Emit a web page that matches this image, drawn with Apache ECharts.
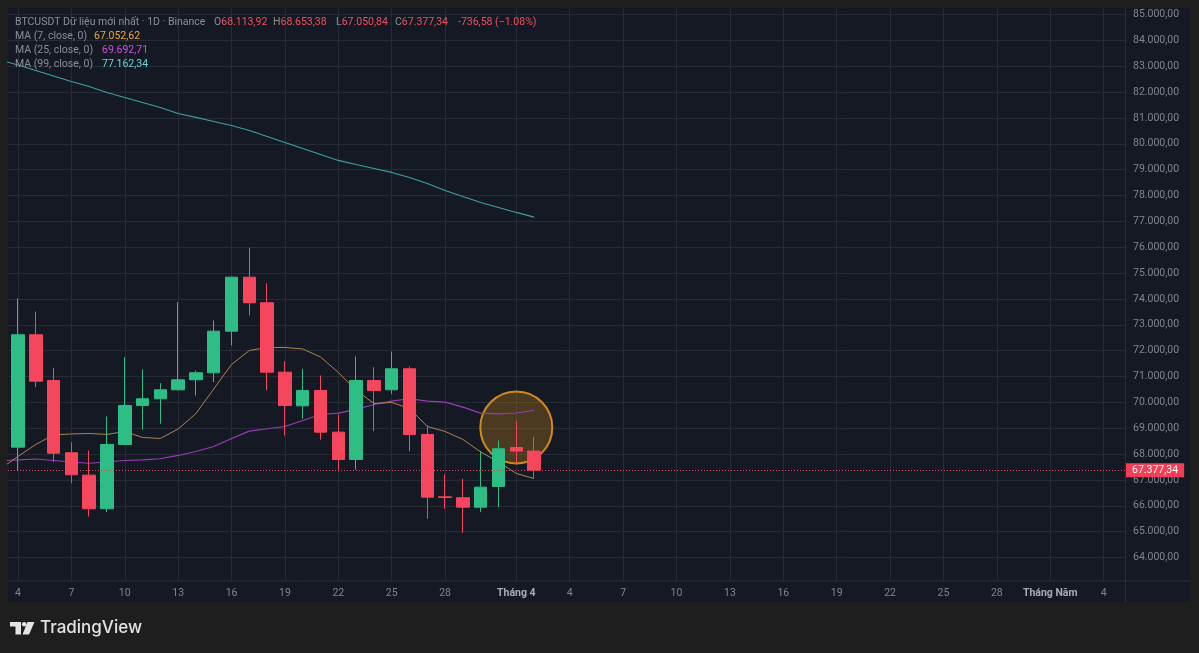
<!DOCTYPE html>
<html><head><meta charset="utf-8">
<script src="https://cdn.jsdelivr.net/npm/echarts@6/dist/echarts.min.js"></script>
<style>html,body{margin:0;padding:0;background:#1e1e1e;}#c{width:1199px;height:653px;}</style>
</head><body><div id="c"></div>
<script>
// ---------- data ----------
const dates = ['2024-03-03','2024-03-04','2024-03-05','2024-03-06','2024-03-07','2024-03-08','2024-03-09','2024-03-10',
  '2024-03-11','2024-03-12','2024-03-13','2024-03-14','2024-03-15','2024-03-16','2024-03-17','2024-03-18','2024-03-19',
  '2024-03-20','2024-03-21','2024-03-22','2024-03-23','2024-03-24','2024-03-25','2024-03-26','2024-03-27','2024-03-28',
  '2024-03-29','2024-03-30','2024-03-31','2024-04-01','2024-04-02'];
const open  = [null,68266,72613,70845,68049,67183,65883,68370,69879,70138,70486,70872,71143,72752,74840,73850,71166,69866,70459,68846,67790,70845,70486,71298,68757,66345,66309,65945,66746,68250,68113.92];
const high  = [null,74017,73514,71336,68459,68138,69453,71746,71271,70741,73874,71232,73166,74860,75977,74608,71592,71298,71039,69530,71773,71360,71967,71387,69105,67210,67043,68111,68525,69271,68653.38];
const low   = [null,67365,70586,67686,66873,65586,65752,68350,68939,69171,70459,70265,70780,72199,73359,70459,68718,69364,68552,67326,67392,68885,70331,68111,65497,65883,64955,65752,65945,67624,67050.84];
const close = [null,72613,70818,68034,67198,65883,68370,69879,70138,70486,70872,71143,72752,74840,73850,71166,69879,70459,68846,67790,70845,70459,71298,68757,66332,66320,65945,66719,68204,68113.92,67377.34];
const ma7   = [67422,67906,68370,68738,68776,68796,68757,68873,68641,68602,68970,69569,70517,71464,72006,72122,72122,72064,71754,71155,70459,69956,69994,69762,69066,68873,68564,68080,67693,67249,67052.62];
const ma25  = [67736,67771,67809,67751,67693,67643,67693,67751,67778,67817,67945,68099,68293,68602,68885,68977,69066,69298,69530,69581,69724,69917,70045,70138,70045,70006,69813,69581,69557,69588,69692.71];
const ma99  = [83233,83047,82834,82622,82409,82215,81983,81790,81597,81403,81171,81017,80862,80707,80514,80282,80050,79818,79586,79354,79199,79044,78890,78696,78464,78193,77961,77729,77536,77343,77162.34];
const tickDates  = ['2024-03-04','2024-03-07','2024-03-10','2024-03-13','2024-03-16','2024-03-19','2024-03-22','2024-03-25','2024-03-28',
  '2024-04-01','2024-04-04','2024-04-07','2024-04-10','2024-04-13','2024-04-16','2024-04-19','2024-04-22','2024-04-25','2024-04-28',
  '2024-05-01','2024-05-04'];
const tickLabels = ['4','7','10','13','16','19','22','25','28','Tháng 4','4','7','10','13','16','19','22','25','28','Tháng Năm','4'];
const yTicks = [64000,65000,66000,67000,68000,69000,70000,71000,72000,73000,74000,75000,76000,77000,78000,79000,80000,81000,82000,83000,84000,85000];
const highlightDate = '2024-04-01';
const highlightPrice = 69030;
const symbolName = 'BTCUSDT Dữ liệu mới nhất · 1D · Binance';

// ---------- helpers ----------
const UP = '#2ebd85', DOWN = '#f6465d';
const base = Date.UTC(2024, 2, 4);
const dayOff = d => (Date.parse(d + 'T00:00:00Z') - base) / 86400000;
function fmtVN(v) {
  const s = Math.abs(v).toFixed(2);
  let [i, d] = s.split('.');
  i = i.replace(/\B(?=(\d{3})+(?!\d))/g, '.');
  return (v < 0 ? '-' : '') + i + ',' + d;
}
const candleData = [];
dates.forEach((d, i) => { if (open[i] != null) candleData.push([dayOff(d), open[i], close[i], low[i], high[i]]); });
const maData = arr => dates.map((d, i) => [dayOff(d), arr[i]]);
const tickOffsets = tickDates.map(dayOff);
const n = close.length - 1;
const lastO = open[n], lastH = high[n], lastL = low[n], lastC = close[n];
const chg = lastC - close[n - 1];
const pct = chg / close[n - 1] * 100;

const GRAY = '#8b8e97';
const FONT = 'Roboto, "Noto Sans", sans-serif';
const FS = 10.5;
const RICH = {
  g: { fill: GRAY, fontSize: FS, fontFamily: FONT },
  r: { fill: '#f0505f', fontSize: FS, fontFamily: FONT },
  o: { fill: '#eba83a', fontSize: FS, fontFamily: FONT },
  m: { fill: '#d04fe0', fontSize: FS, fontFamily: FONT },
  c: { fill: '#6fd3da', fontSize: FS, fontFamily: FONT }
};
function txt(x, y, rich) {
  return { type: 'text', x, y, z: 20, silent: true, style: { text: rich, rich: RICH, fontFamily: FONT, fontSize: FS, fill: GRAY, verticalAlign: 'middle' } };
}

const chart = echarts.init(document.getElementById('c'));
chart.setOption({
  animation: false,
  backgroundColor: '#1e1e1e',
  grid: { left: 8, right: 74, top: 8, bottom: 72 },
  xAxis: {
    type: 'value', min: -0.56, max: 62.2,
    axisLine: { show: false },
    axisTick: { show: false, customValues: tickOffsets },
    splitLine: { show: true, lineStyle: { color: '#272b36', width: 1 } },
    axisLabel: {
      customValues: tickOffsets, margin: 7, fontSize: FS, fontFamily: FONT, color: '#82858e',
      formatter: v => {
        const k = tickOffsets.indexOf(v);
        const s = k >= 0 ? tickLabels[k] : '';
        return /^\d+$/.test(s) ? s : '{b|' + s + '}';
      },
      rich: { b: { fontWeight: 'bold', color: '#a9acb5', fontSize: FS, fontFamily: FONT } }
    }
  },
  yAxis: {
    type: 'value', position: 'right', min: 63090, max: 85250, scale: true,
    axisLine: { show: false },
    axisTick: { show: false, customValues: yTicks },
    splitLine: { show: true, lineStyle: { color: '#272b36', width: 1 } },
    axisLabel: { customValues: yTicks, margin: 8, fontSize: FS, fontFamily: FONT, color: '#82858e', formatter: v => fmtVN(v) }
  },
  series: [
    { type: 'scatter', name: 'highlight', z: 1, silent: true,
      data: [[dayOff(highlightDate), highlightPrice]], symbol: 'circle', symbolSize: 72,
      itemStyle: { color: 'rgba(247,160,20,0.30)', borderColor: '#f5a21e', borderWidth: 2 } },
    { type: 'line', name: 'MA99', data: maData(ma99), symbol: 'none', z: 2, silent: true,
      lineStyle: { color: '#3e9fa3', width: 1.2 } },
    { type: 'line', name: 'MA25', data: maData(ma25), symbol: 'none', z: 2, silent: true,
      lineStyle: { color: '#9b3bb8', width: 1.2 } },
    { type: 'line', name: 'MA7', data: maData(ma7), symbol: 'none', z: 2, silent: true,
      lineStyle: { color: '#b0854c', width: 1 } },
    { type: 'candlestick', name: 'BTCUSDT', z: 3, data: candleData, barWidth: 13,
      itemStyle: { color: UP, color0: DOWN, borderColor: UP, borderColor0: DOWN, borderColorDoji: DOWN, borderWidth: 1 },
      markLine: {
        silent: true, symbol: ['none', 'none'], animation: false,
        data: [{ yAxis: lastC }],
        lineStyle: { color: '#e04a5c', type: [1, 2], width: 1 },
        label: { position: 'end', distance: 1, formatter: () => fmtVN(lastC), color: '#ffffff',
          backgroundColor: '#f23f55', padding: [2, 6, 1, 6], fontSize: FS, fontFamily: FONT }
      }
    }
  ],
  graphic: [
    { type: 'rect', z: -10, silent: true, shape: { x: 8, y: 8, width: 1182, height: 594 }, style: { fill: '#151924' } },
    { type: 'line', z: 10, silent: true, shape: { x1: 8, y1: 581, x2: 1190, y2: 581 }, style: { stroke: '#2b2f3a', lineWidth: 1 } },
    { type: 'line', z: 10, silent: true, shape: { x1: 1125.5, y1: 8, x2: 1125.5, y2: 602 }, style: { stroke: '#2b2f3a', lineWidth: 1 } },
    txt(15, 22, '{g|' + symbolName + '}'),
    txt(214, 22, '{g|O}{r|' + fmtVN(lastO) + '}'),
    txt(273, 22, '{g|H}{r|' + fmtVN(lastH) + '}'),
    txt(336, 22, '{g|L}{r|' + fmtVN(lastL) + '}'),
    txt(395, 22, '{g|C}{r|' + fmtVN(lastC) + '}'),
    txt(458, 22, '{r|' + fmtVN(chg) + ' (\u2212' + Math.abs(pct).toFixed(2) + '%)}'),
    txt(15, 36, '{g|MA (7, close, 0)}'),
    txt(94, 36, '{o|' + fmtVN(ma7[n]) + '}'),
    txt(15, 50, '{g|MA (25, close, 0)}'),
    txt(102, 50, '{m|' + fmtVN(ma25[n]) + '}'),
    txt(15, 64, '{g|MA (99, close, 0)}'),
    txt(102, 64, '{c|' + fmtVN(ma99[n]) + '}'),
    // TradingView logo
    { type: 'rect', z: 20, silent: true, shape: { x: 10, y: 622, width: 11, height: 4.5 }, style: { fill: '#e4e4e4' } },
    { type: 'rect', z: 20, silent: true, shape: { x: 15.5, y: 622, width: 5.5, height: 12.5 }, style: { fill: '#e4e4e4' } },
    { type: 'circle', z: 20, silent: true, shape: { cx: 24.2, cy: 624.3, r: 2.3 }, style: { fill: '#e4e4e4' } },
    { type: 'polygon', z: 20, silent: true, shape: { points: [[27.5, 622], [34.5, 622], [29, 634.5], [22.5, 634.5]] }, style: { fill: '#e4e4e4' } },
    { type: 'text', z: 20, silent: true, x: 40, y: 628, style: { text: 'TradingView', fill: '#e4e4e4', fontSize: 17, fontWeight: 500, fontFamily: 'Inter, Roboto, sans-serif', verticalAlign: 'middle' } }
  ]
});
</script></body></html>
